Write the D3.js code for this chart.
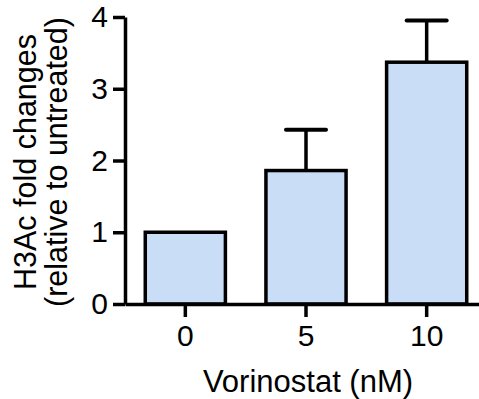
<!DOCTYPE html>
<html>
<head>
<meta charset="utf-8">
<script src="https://cdn.jsdelivr.net/npm/d3@7"></script>
<style>
    body { margin: 0; background: #fff; }
    svg text { font-family: "Liberation Sans", Arial, sans-serif; fill: #000; }
</style>
</head>
<body>
<svg id="chart" width="479" height="399"></svg>
<script>
// Data
var doses = ["0", "5", "10"];
var foldChange = [1, 1.86, 3.37];
var errUpper = [0, 0.57, 0.58];
var yTicks = [0, 1, 2, 3, 4];

var svg = d3.select("#chart");

var x = d3.scaleBand()
    .domain(doses)
    .range([125, 487])
    .paddingInner(0.336)
    .paddingOuter(0.168);

var y = d3.scaleLinear()
    .domain([0, 4])
    .range([304, 17]);

// Bars
svg.append("g")
    .selectAll("rect")
    .data(doses)
    .enter().append("rect")
    .attr("x", function(d) { return x(d); })
    .attr("y", function(d, i) { return y(foldChange[i]); })
    .attr("width", x.bandwidth())
    .attr("height", function(d, i) { return y(0) - y(foldChange[i]); })
    .attr("fill", "#c9ddf6")
    .attr("stroke", "#000")
    .attr("stroke-width", 3.5);

// Error bars (upper only)
var err = svg.append("g")
    .selectAll("g")
    .data(doses.filter(function(d, i) { return errUpper[i] > 0; }))
    .enter().append("g");

err.append("line")
    .attr("x1", function(d) { return x(d) + x.bandwidth() / 2; })
    .attr("x2", function(d) { return x(d) + x.bandwidth() / 2; })
    .attr("y1", function(d) { var i = doses.indexOf(d); return y(foldChange[i]); })
    .attr("y2", function(d) { var i = doses.indexOf(d); return y(foldChange[i] + errUpper[i]); })
    .attr("stroke", "#000")
    .attr("stroke-width", 3.5);

err.append("line")
    .attr("x1", function(d) { return x(d) + x.bandwidth() / 2 - 20; })
    .attr("x2", function(d) { return x(d) + x.bandwidth() / 2 + 20; })
    .attr("y1", function(d) { var i = doses.indexOf(d); return y(foldChange[i] + errUpper[i]); })
    .attr("y2", function(d) { var i = doses.indexOf(d); return y(foldChange[i] + errUpper[i]); })
    .attr("stroke", "#000")
    .attr("stroke-width", 4)
    .attr("stroke-linecap", "round");

// Axes
var yAxis = d3.axisLeft(y)
    .tickValues(yTicks)
    .tickFormat(d3.format("d"))
    .tickSizeInner(12)
    .tickSizeOuter(0)
    .tickPadding(5);

var gy = svg.append("g")
    .attr("transform", "translate(125,0)")
    .call(yAxis);

var xAxis = d3.axisBottom(x)
    .tickSizeInner(13)
    .tickSizeOuter(0)
    .tickPadding(8);

var gx = svg.append("g")
    .attr("transform", "translate(0,304)")
    .call(xAxis);

[gy, gx].forEach(function(g) {
    g.selectAll("path, line")
        .attr("stroke", "#000")
        .attr("stroke-width", 3.5);
    g.selectAll("text")
        .style("font-size", "30px")
        .attr("fill", "#000");
});

// Axis titles
svg.append("text")
    .attr("x", 308)
    .attr("y", 392)
    .attr("text-anchor", "middle")
    .style("font-size", "31px")
    .text("Vorinostat (nM)");

var yTitle = svg.append("text")
    .attr("transform", "translate(0,162) rotate(-90)")
    .attr("text-anchor", "middle")
    .style("font-size", "30.5px");

yTitle.append("tspan")
    .attr("x", 0)
    .attr("y", 36)
    .text("H3Ac fold changes");

yTitle.append("tspan")
    .attr("x", 0)
    .attr("y", 67)
    .text("(relative to untreated)");
</script>
</body>
</html>
